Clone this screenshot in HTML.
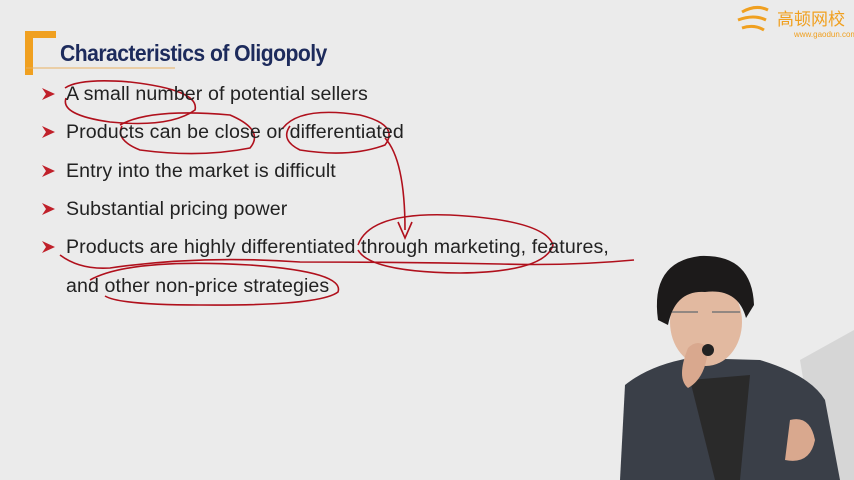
<!DOCTYPE html>
<html><head><meta charset="utf-8"><style>
html,body{margin:0;padding:0;}
body{width:854px;height:480px;overflow:hidden;background:#ebebeb;position:relative;font-family:"Liberation Sans",sans-serif;}
.t{position:absolute;left:66px;font-size:19.6px;color:#222;white-space:nowrap;letter-spacing:0.1px;}
</style></head><body>
<svg width="854" height="480" style="position:absolute;left:0;top:0">
 <path d="M25 75 V31 H56 V38 H33 V75 Z" fill="#f0a020"/>
 <line x1="26" y1="68" x2="175" y2="68" stroke="#e8b060" stroke-width="1"/>
 <g>
  <path d="M742 12 q14 -8 26 -2 M738 20 q16 -6 28 0 M742 28 q12 -4 22 2" stroke="#f0a020" stroke-width="3" fill="none"/>
  <text x="777" y="25" font-family="Noto Sans CJK SC,sans-serif" font-size="17" fill="#f0a020">高顿网校</text>
  <text x="794" y="37" font-size="8" fill="#f0a020" font-family="Liberation Sans,sans-serif">www.gaodun.com</text>
 </g>
 <g fill="#c0202a">
  <path d="M42 88 L55 94 L42 100 L46 94Z"/><path d="M42 126 L55 132 L42 138 L46 132Z"/>
  <path d="M42 165 L55 171 L42 177 L46 171Z"/><path d="M42 203 L55 209 L42 215 L46 209Z"/>
  <path d="M42 241 L55 247 L42 253 L46 247Z"/>
 </g>
 <g fill="#c8c8c8">
  <path d="M800 360 L854 330 L854 480 L820 480Z" opacity="0.6"/>
 </g>
 <g>
  <path d="M620 480 L625 385 Q650 365 690 358 L760 360 Q810 375 825 400 L840 480Z" fill="#3a3f48"/>
  <path d="M690 380 L715 480 L740 480 L750 375Z" fill="#2a2a2a"/>
  <ellipse cx="706" cy="322" rx="36" ry="44" fill="#e2b9a0"/>
  <path d="M658 320 Q650 262 700 256 Q752 254 754 305 L746 318 Q738 288 705 292 Q675 290 668 325Z" fill="#1c1a1a"/>
  <path d="M688 348 q10 -10 20 0 q-2 30 -20 40 q-12 -10 0 -40Z" fill="#d9a88e"/>
  <path d="M790 420 q20 -5 25 20 q-5 25 -30 20Z" fill="#d9a88e"/>
  <circle cx="708" cy="350" r="6" fill="#222"/>
  <path d="M672 312 h26 M712 312 h28" stroke="#777" stroke-width="1.5"/>
 </g>
 <g fill="none" stroke="#b0101c" stroke-width="1.6">
  <path d="M65 88 Q80 78 130 82 Q200 90 195 110 Q170 128 110 122 Q60 115 66 98"/>
  <path d="M120 125 Q150 108 230 115 Q265 130 250 148 Q200 158 140 150 Q115 140 122 126"/>
  <path d="M283 128 Q300 106 360 115 Q400 125 385 145 Q350 158 300 150 Q280 140 290 126"/>
  <path d="M385 138 Q405 160 405 230 M398 222 L405 238 L412 222"/>
  <path d="M358 245 Q370 212 450 215 Q545 220 553 245 Q545 272 460 273 Q370 272 358 250"/>
  <path d="M60 255 Q80 270 110 268 Q200 255 300 262 Q400 262 500 264 Q570 266 634 260"/>
  <path d="M90 280 Q130 258 250 265 Q345 272 338 292 Q320 306 200 305 Q120 305 105 296"/>
 </g>
</svg>
<div style="position:absolute;left:60px;top:40px;font-size:23px;font-weight:bold;color:#1d2b5c;letter-spacing:-0.6px;transform:scaleX(0.92);transform-origin:left">Characteristics of Oligopoly</div>
<div class="t" style="top:83px">A small number of potential sellers</div>
<div class="t" style="top:121px">Products can be close or differentiated</div>
<div class="t" style="top:160px">Entry into the market is difficult</div>
<div class="t" style="top:198px">Substantial pricing power</div>
<div class="t" style="top:236px">Products are highly differentiated through marketing, features,</div>
<div class="t" style="top:275px">and other non-price strategies</div>
</body></html>
